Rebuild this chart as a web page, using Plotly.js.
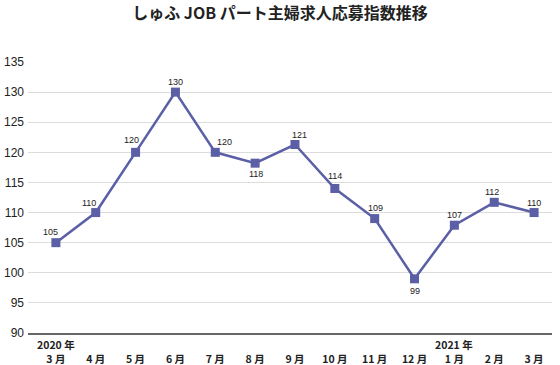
<!DOCTYPE html>
<html>
<head>
<meta charset="utf-8">
<script src="https://cdn.plot.ly/plotly-3.0.1.min.js"></script>
<style>html,body{margin:0;padding:0;background:#fff;}#chart{width:560px;height:365px;}</style>
</head>
<body>
<div id="chart"></div>
<script>
// Data
const months = ["3 月","4 月","5 月","6 月","7 月","8 月","9 月","10 月","11 月","12 月","1 月","2 月","3 月"];
const yearLabels = [{idx:0, text:"2020 年"}, {idx:10, text:"2021 年"}];
const values = [105, 110, 120, 130, 120, 118.2, 121.3, 114, 109, 99, 107.9, 111.7, 110];
const valueLabels = ["105","110","120","130","120","118","121","114","109","99","107","112","110"];
const yTicks = [90, 95, 100, 105, 110, 115, 120, 125, 130, 135];

// label offsets (style only)
const labelShiftX = [-5, -7, -4, 0, 9, 1, 5, 0, 1, 0, 0, -2, 0];
const labelShiftY = [11, 10, 12, 10, 10, -11, 10, 12, 11, -12, 10, 10, 10];

const xIdx = months.map((_, i) => i);
const lineColor = "#5b5fa5";

const trace = {
  x: xIdx,
  y: values,
  type: "scatter",
  mode: "lines+markers",
  line: {color: lineColor, width: 2.5},
  marker: {symbol: "square", size: 9, color: lineColor},
  hoverinfo: "skip"
};

const annotations = values.map((v, i) => ({
  x: i, y: v, xref: "x", yref: "y",
  text: valueLabels[i], showarrow: false,
  xshift: labelShiftX[i], yshift: labelShiftY[i],
  font: {family: "Liberation Sans, Arial, sans-serif", size: 9, color: "#222"}
}));
yearLabels.forEach(yl => annotations.push({
  x: yl.idx, y: 0, xref: "x", yref: "paper",
  text: yl.text, showarrow: false, yanchor: "middle", yshift: -11,
  font: {family: "Noto Sans CJK JP, sans-serif", size: 10.5, color: "#222", weight: "bold"}
}));

const layout = {
  width: 560, height: 365,
  margin: {l: 28, r: 8, t: 62, b: 32},
  paper_bgcolor: "#fff", plot_bgcolor: "#fff",
  showlegend: false,
  title: {
    text: "しゅふ JOB パート主婦求人応募指数推移",
    x: 0.5, xanchor: "center", y: 0.962, yanchor: "middle",
    font: {family: "Noto Sans CJK JP, sans-serif", size: 16, color: "#222", weight: "bold"}
  },
  xaxis: {
    range: [-0.70, 12.45],
    tickmode: "array", tickvals: xIdx, ticktext: months,
    showgrid: false, zeroline: false,
    showline: true, linecolor: "#666", linewidth: 1.5,
    ticks: "", ticklabelstandoff: 16,
    tickfont: {family: "Noto Sans CJK JP, sans-serif", size: 10.5, color: "#222", weight: "bold"},
    fixedrange: true
  },
  yaxis: {
    range: [90, 135],
    tickmode: "array", tickvals: yTicks,
    showgrid: true, gridcolor: "#dcdcdc", gridwidth: 1,
    zeroline: false, showline: false, ticks: "", ticklabelstandoff: 3,
    tickfont: {family: "Liberation Sans, Arial, sans-serif", size: 12, color: "#222"},
    fixedrange: true
  },
  annotations: annotations
};

Plotly.newPlot("chart", [trace], layout, {displayModeBar: false, staticPlot: true});
</script>
</body>
</html>
